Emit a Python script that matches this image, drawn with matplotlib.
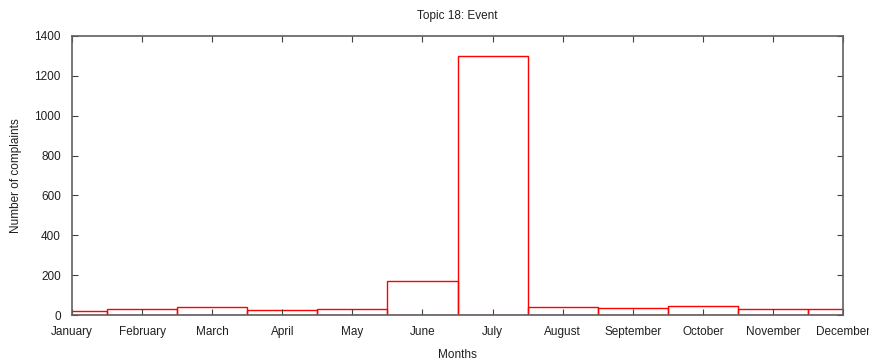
import matplotlib
matplotlib.use("Agg")
import matplotlib.pyplot as plt

months = ["January", "February", "March", "April", "May", "June", "July",
          "August", "September", "October", "November", "December"]
complaints = [21, 28, 38, 23, 28, 169, 1300, 42, 34, 45, 28, 28]
yticks = [0, 200, 400, 600, 800, 1000, 1200, 1400]

plt.rcParams['font.family'] = ['Liberation Sans', 'DejaVu Sans']
fig = plt.figure(figsize=(8.69, 3.6), dpi=100)
ax = fig.add_axes([72/869, 1-315/360, (843-72)/869, (315-36)/360])

x = list(range(len(months)))
ax.bar(x, complaints, width=1.0, facecolor='none', edgecolor='#ff0000',
       linewidth=1.0, zorder=1)

ax.set_xlim(0, len(months) - 1)
ax.set_ylim(0, 1400)
ax.set_xticks(x)
ax.set_xticklabels(months)
ax.set_yticks(yticks)
ax.tick_params(axis='both', direction='in', length=4, width=0.8, color='#404040',
               labelsize=8.5, labelcolor='#202020', top=True, right=True)
ax.tick_params(axis='x', pad=8)
ax.tick_params(axis='y', pad=8)
for s in ax.spines.values():
    s.set_color('#606060')
    s.set_linewidth(1.2)
    s.set_zorder(5)

ax.set_title("Topic 18: Event", fontsize=8.5, color='#202020', pad=12)
ax.set_xlabel("Months", fontsize=8.5, color='#202020', labelpad=8)
ax.set_ylabel("Number of complaints", fontsize=8.5, color='#202020', labelpad=9)

fig.savefig("out.png", dpi=100)
